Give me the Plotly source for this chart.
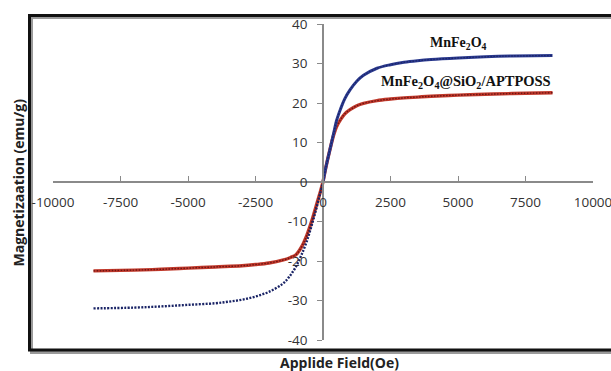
import plotly.graph_objects as go

# ---- data ----
field_pos = [0, 100, 250, 400, 500, 650, 800, 1000, 1250, 1500, 2000, 2500, 3000, 3500, 4000, 5000, 6000, 7000, 8500]
mnfe_pos = [0, 3.5, 8, 12.5, 15.5, 18.5, 21, 23.3, 25.5, 27, 28.8, 29.7, 30.3, 30.7, 31.0, 31.4, 31.7, 31.9, 32.0]
coat_pos = [0, 3.5, 8, 12, 14, 15.8, 17.2, 18.3, 19.3, 19.9, 20.6, 21.0, 21.3, 21.5, 21.7, 22.0, 22.2, 22.4, 22.6]

field_neg_mn = [-8500, -7000, -6000, -5000, -4000, -3500, -3000, -2500, -2000, -1500, -1250, -1000, -800, -600, -400, -250, -100, 0]
mnfe_neg = [-32.0, -31.8, -31.5, -31.1, -30.7, -30.3, -29.8, -29.0, -27.8, -25.8, -24.0, -21.4, -18.5, -15.0, -10.5, -6.8, -2.8, 0]

field_neg_ct = [-8500, -7000, -6000, -5000, -4000, -3000, -2500, -2000, -1500, -1200, -1000, -800, -600, -400, -250, -100, 0]
coat_neg = [-22.5, -22.3, -22.1, -21.8, -21.5, -21.2, -20.9, -20.5, -19.8, -19.1, -18.4, -16.5, -13.5, -9.5, -6.0, -2.5, 0]

x_ticks = [-10000, -7500, -5000, -2500, 0, 2500, 5000, 7500, 10000]
y_ticks = [-40, -30, -20, -10, 0, 10, 20, 30, 40]

series_names = ["MnFe<sub>2</sub>O<sub>4</sub>", "MnFe<sub>2</sub>O<sub>4</sub>@SiO<sub>2</sub>/APTPOSS"]
x_title = "Applide Field(Oe)"
y_title = "Magnetizaation (emu/g)"

BLUE = "#2b3a8f"
BLUE_DK = "#1a2466"
RED = "#c0392b"
RED_DK = "#6e1414"

fig = go.Figure()
# red curve (coated)
for xs, ys in [(field_neg_ct, coat_neg), (field_pos, coat_pos)]:
    fig.add_trace(go.Scatter(x=xs, y=ys, mode="lines", line=dict(color=RED, width=3.4, shape="spline"),
                             hoverinfo="skip", showlegend=False))
    fig.add_trace(go.Scatter(x=xs, y=ys, mode="lines", line=dict(color=RED_DK, width=1.4, shape="spline", dash="1.5px,1.5px"),
                             hoverinfo="skip", showlegend=False))
# blue curve
fig.add_trace(go.Scatter(x=field_pos, y=mnfe_pos, mode="lines", line=dict(color=BLUE, width=3, shape="spline"),
                         hoverinfo="skip", showlegend=False))
fig.add_trace(go.Scatter(x=field_pos, y=mnfe_pos, mode="lines", line=dict(color=BLUE_DK, width=1.3, shape="spline", dash="1.5px,1.5px"),
                         hoverinfo="skip", showlegend=False))
fig.add_trace(go.Scatter(x=field_neg_mn, y=mnfe_neg, mode="lines", line=dict(color=BLUE_DK, width=2.4, shape="spline", dash="2px,1.4px"),
                         hoverinfo="skip", showlegend=False))

L, R, T, B = 53, 18, 24, 31
W, H = 611, 371
pw, ph = W - L - R, H - T - B

def px(xp):
    return (xp - L) / pw

def py(yp):
    return (H - B - yp) / ph

def xdata(xp):
    return (xp - L) / pw * 20000 - 10000

shapes = [
    dict(type="rect", xref="paper", yref="paper", x0=px(31.5), x1=px(616), y0=py(352.5), y1=py(17.5),
         line=dict(color="#9a9a9a", width=3), layer="below"),
    dict(type="rect", xref="paper", yref="paper", x0=px(29.5), x1=px(614), y0=py(350), y1=py(15.5),
         line=dict(color="#111111", width=3), layer="below"),
]

center = dict(xanchor="center", yanchor="middle", showarrow=False)
annotations = [
    dict(text="<b>" + series_names[0] + "</b>", x=xdata(458), y=py(43), xref="x", yref="paper",
         font=dict(family="Liberation Serif", size=14, color="#111111"), **center),
    dict(text="<b>" + series_names[1] + "</b>", x=xdata(466), y=py(82), xref="x", yref="paper",
         font=dict(family="Liberation Serif", size=14.5, color="#111111"), **center),
    dict(text="<b>" + x_title + "</b>", x=px(339), y=py(362), xref="paper", yref="paper",
         font=dict(family="Open Sans", size=14, color="#222222"), **center),
    dict(text="<b>" + y_title + "</b>", x=px(17.5), y=py(183), xref="paper", yref="paper",
         textangle=-90, font=dict(family="Open Sans", size=14, color="#222222"), **center),
]

fig.update_layout(
    width=W, height=H,
    margin=dict(l=L, r=R, t=T, b=B, pad=0, autoexpand=False),
    paper_bgcolor="white", plot_bgcolor="white",
    font=dict(family="Open Sans", size=13, color="#3a3a3a"),
    shapes=shapes, annotations=annotations,
    xaxis=dict(range=[-10000, 10000], domain=[0, 1], anchor="free", position=0.5, automargin=False,
               tickvals=x_ticks, ticktext=[str(v) for v in x_ticks],
               showline=True, linecolor="#8a8a8a", linewidth=1.5,
               ticks="inside", ticklen=5, tickcolor="#8a8a8a", tickwidth=1.2,
               showgrid=False, zeroline=False, ticklabelstandoff=8, ticklabeloverflow="allow",
               tickfont=dict(family="Open Sans", size=13.5, color="#333333")),
    yaxis=dict(range=[-40, 40], domain=[0, 1], anchor="free", position=0.5, automargin=False,
               tickvals=y_ticks, ticktext=[str(v) for v in y_ticks],
               showline=True, linecolor="#8a8a8a", linewidth=1.5,
               ticks="outside", ticklen=5, tickcolor="#8a8a8a", tickwidth=1.2,
               showgrid=False, zeroline=False, ticklabelstandoff=7, ticklabeloverflow="allow",
               tickfont=dict(family="Open Sans", size=13.5, color="#333333")),
)

fig.write_html("out.html", config={"displayModeBar": False},
               post_script="document.body.style.margin='0';document.body.style.overflow='hidden';")
